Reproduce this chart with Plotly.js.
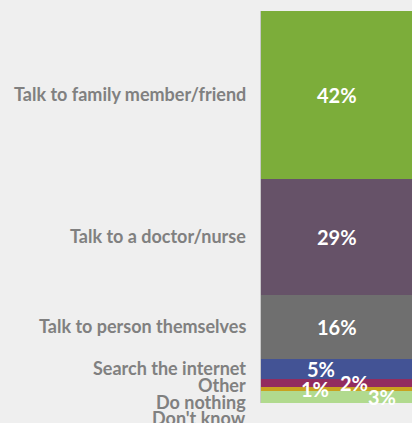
<!DOCTYPE html>
<html>
<head>
<meta charset="utf-8">
<script src="https://cdn.plot.ly/plotly-3.0.1.min.js"></script>
<style>html,body{margin:0;padding:0;background:#efefef;}</style>
</head>
<body>
<div id="chart" style="width:412px;height:423px;"></div>
<script>
var categories = ["Talk to family member/friend", "Talk to a doctor/nurse", "Talk to person themselves", "Search the internet", "Other", "Do nothing", "Don't know"];
var values = [42, 29, 16, 5, 2, 1, 3];
var valueLabels = ["42%", "29%", "16%", "5%", "2%", "1%", "3%"];
var colors = ["#7cad3a", "#665268", "#6f6f6f", "#435395", "#922c5f", "#c9a21f", "#b1da8e"];
var labelXShift = [0, 0, 0, -16, 17, -22, 45];

var total = values.reduce(function(a, b){ return a + b; }, 0);
var H = 423, mt = 10.5, mb = 20;
var pxPerUnit = (H - mt - mb) / total;

var traces = [];
var annotations = [];
var cum = 0;
var prevPos = -Infinity;
var minGapUnits = 16.8 / pxPerUnit;
for (var i = 0; i < categories.length; i++) {
  traces.push({
    type: "bar",
    x: ["All"],
    y: [values[i]],
    name: categories[i],
    marker: {color: colors[i], line: {width: 0}},
    hoverinfo: "name+y"
  });
  var center = cum + values[i] / 2;
  cum += values[i];
  annotations.push({
    x: "All", xref: "x", y: center, yref: "y",
    text: valueLabels[i], showarrow: false,
    xshift: labelXShift[i],
    font: {family: "Lato, 'Open Sans', sans-serif", size: 20, color: "#ffffff", weight: 700}
  });
  var pos = Math.max(center, prevPos + minGapUnits);
  prevPos = pos;
  annotations.push({
    x: 0, xref: "paper", xanchor: "right", xshift: -13,
    y: center, yref: "y", yshift: -(pos - center) * pxPerUnit + 1,
    text: categories[i], showarrow: false,
    font: {family: "Lato, 'Open Sans', sans-serif", size: 18, color: "#808080", weight: 700}
  });
}

var layout = {
  width: 412, height: H,
  margin: {l: 261, r: 0, t: mt, b: mb, pad: 0},
  paper_bgcolor: "#efefef",
  plot_bgcolor: "#efefef",
  barmode: "stack",
  bargap: 0,
  showlegend: false,
  xaxis: {visible: false, range: [-0.5, 0.5], fixedrange: true},
  yaxis: {range: [total, 0], showgrid: false, zeroline: false, showticklabels: false,
          showline: true, linecolor: "#c8c8c8", linewidth: 1, ticks: ""},
  annotations: annotations
};

Plotly.newPlot("chart", traces, layout, {displayModeBar: false, staticPlot: true});
</script>
</body>
</html>
